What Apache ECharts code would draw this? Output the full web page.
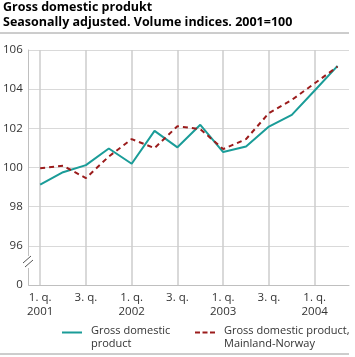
<!DOCTYPE html>
<html><head><meta charset="utf-8">
<script src="https://cdn.jsdelivr.net/npm/echarts@6/dist/echarts.min.js"></script>
<style>html,body{margin:0;padding:0;background:#fff}#c{width:355px;height:357px}</style>
</head><body><div id="c"></div>
<script>
var categories = ['1. q.\n2001','2. q.','3. q.','4. q.','1. q.\n2002','2. q.','3. q.','4. q.','1. q.\n2003','2. q.','3. q.','4. q.','1. q.\n2004','2. q.'];
var gdp = [99.12, 99.76, 100.12, 100.97, 100.19, 101.87, 101.03, 102.18, 100.79, 101.07, 102.09, 102.69, 103.93, 105.19];
var mainland = [99.96, 100.09, 99.46, 100.56, 101.45, 100.99, 102.11, 101.96, 100.94, 101.45, 102.78, 103.45, 104.30, 105.15];
var seriesNames = ['Gross domestic\nproduct', 'Gross domestic product,\nMainland-Norway'];
var titleText = 'Gross domestic produkt';
var subtitleText = 'Seasonally adjusted. Volume indices. 2001=100';

var font = 'Open Sans';
var gridLines = categories.map(function(c, i){ return i; }).filter(function(i){ return i % 2 === 0; }).map(function(i){ return {xAxis: i}; });
var legendText = {fontSize: 11, color: '#333', lineHeight: 13.5, fontFamily: font};
var chart = echarts.init(document.getElementById('c'));
chart.setOption({
  animation: false,
  textStyle: {fontFamily: font},
  title: {
    text: titleText, subtext: subtitleText, left: 0, top: 1, padding: [0,0,0,3], itemGap: 2,
    textStyle: {fontSize: 12.5, fontWeight: 'bold', color: '#000', fontFamily: font},
    subtextStyle: {fontSize: 12.5, fontWeight: 'bold', color: '#000', fontFamily: font}
  },
  grid: {left: 28, right: 6, top: 50, bottom: 72},
  xAxis: {
    type: 'category', data: categories, boundaryGap: true,
    axisLine: {lineStyle: {color: '#bfbfbf'}},
    axisTick: {alignWithLabel: true, interval: 0, length: 5, lineStyle: {color: '#cfcfcf'}},
    axisLabel: {interval: 1, color: '#333', fontSize: 11.5, lineHeight: 14, margin: 6},
    splitLine: {show: false}
  },
  yAxis: {
    type: 'value', min: 94, max: 106, interval: 2,
    axisLine: {show: true, lineStyle: {color: '#bfbfbf'}},
    axisTick: {show: false},
    axisLabel: {color: '#333', fontSize: 11.5, margin: 6, formatter: function(v){ return v === 94 ? '0' : String(v); }},
    splitLine: {lineStyle: {color: '#d9d9d9', width: 1}}
  },
  legend: [
    {
      left: 62, bottom: 6, padding: 0, itemWidth: 24, itemHeight: 12, textStyle: legendText,
      data: [{name: seriesNames[0], icon: 'path://M0,0 L20,0 L20,2 L0,2 Z M23.99,12 L24,12 L24,11.99 Z'}]
    },
    {
      left: 195, bottom: 6, padding: 0, itemWidth: 24, itemHeight: 12, textStyle: legendText,
      data: [{name: seriesNames[1], icon: 'path://M0,0 L5,0 L5,2 L0,2 Z M7.5,0 L12.5,0 L12.5,2 L7.5,2 Z M15,0 L20,0 L20,2 L15,2 Z M23.99,12 L24,12 L24,11.99 Z'}]
    }
  ],
  series: [
    {name: seriesNames[0], type: 'line', data: gdp, symbol: 'none', lineStyle: {color: '#1a9c98', width: 2}, itemStyle: {color: '#1a9c98'}, z: 3,
      markLine: {z: 2, silent: true, symbol: 'none', label: {show: false}, lineStyle: {color: '#cdcdcd', width: 1.5, type: 'solid'}, data: gridLines}},
    {name: seriesNames[1], type: 'line', data: mainland, symbol: 'none', lineStyle: {color: '#9b1c1c', width: 2, type: [5,4]}, itemStyle: {color: '#9b1c1c'}, z: 4}
  ],
  graphic: [
    {type: 'line', shape: {x1: 0, y1: 33, x2: 349, y2: 33}, style: {stroke: '#9a9a9a', lineWidth: 1}},
    {type: 'line', shape: {x1: 0, y1: 354, x2: 349, y2: 354}, style: {stroke: '#9a9a9a', lineWidth: 1}},
    {type: 'rect', shape: {x: 24, y: 256, width: 9, height: 12}, style: {fill: '#fff'}, z: 10},
    {type: 'line', shape: {x1: 23, y1: 263, x2: 31, y2: 256}, style: {stroke: '#555', lineWidth: 1}, z: 11},
    {type: 'line', shape: {x1: 25, y1: 267, x2: 33, y2: 260}, style: {stroke: '#555', lineWidth: 1}, z: 11}
  ]
});
</script></body></html>
